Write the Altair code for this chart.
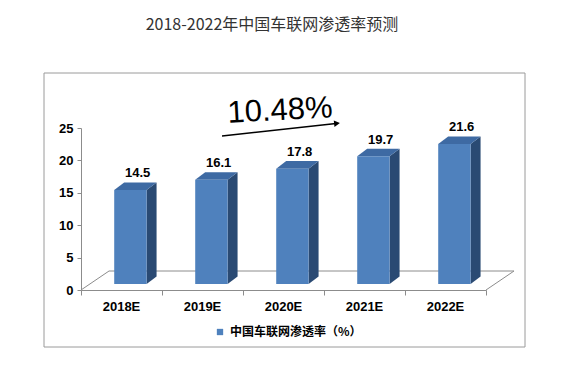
import altair as alt
import pandas as pd

# ---- data ----
categories = ["2018E", "2019E", "2020E", "2021E", "2022E"]
values = [14.5, 16.1, 17.8, 19.7, 21.6]
series_name = "中国车联网渗透率（%）"
title_text = "2018-2022年中国车联网渗透率预测"
growth_text = "10.48%"
y_ticks = [0, 5, 10, 15, 20, 25]

# ---- pseudo-3D geometry (in data units) ----
base = 0.93        # bar sits slightly behind the front floor edge
face_l, face_r = 0.41, 0.81
dx, dy = 0.123, 1.16   # depth of each bar
floor_dx, floor_dy = 0.346, 2.93

front_c = "#4f81bd"
side_c = "#2a4a73"
top_c = "#3e6aa3"
grid_c = "#8c8c8c"

xs = alt.Scale(domain=[0, 5], nice=False, zero=False)
ys = alt.Scale(domain=[0, 25], nice=False)

xax = alt.Axis(values=[0, 1, 2, 3, 4, 5], labels=False, tickSize=5,
               domainColor=grid_c, tickColor=grid_c, grid=False, title=None)
yax = alt.Axis(values=y_ticks, tickSize=4, domainColor=grid_c, tickColor=grid_c,
               grid=False, title=None, labelFont="Liberation Sans",
               labelFontSize=13, labelFontWeight="bold", labelColor="#000",
               labelPadding=4, labelOverlap=False, labelBound=False)

front = pd.DataFrame({
    "cat": categories,
    "x": [i + face_l for i in range(5)],
    "x2": [i + face_r for i in range(5)],
    "y": [base] * 5,
    "y2": [v + base for v in values],
    "series": [series_name] * 5,
    "v": values,
    "lx": [i + 0.70 for i in range(5)],
    "ly": [v + base + dy for v in values],
    "cx": [i + 0.5 for i in range(5)],
})

side_rows = []
top_rows = []
for i, (c, v) in enumerate(zip(categories, values)):
    side_rows.append({"cat": c, "x": i + face_r, "lo": base, "hi": v + base})
    side_rows.append({"cat": c, "x": i + face_r + dx, "lo": base + dy, "hi": v + base + dy})
    top_rows.append({"cat": c, "y": v + base, "xl": i + face_l, "xr": i + face_r})
    top_rows.append({"cat": c, "y": v + base + dy, "xl": i + face_l + dx, "xr": i + face_r + dx})
side = pd.DataFrame(side_rows)
top = pd.DataFrame(top_rows)

floor = pd.DataFrame({
    "x": [floor_dx, 0, 5],
    "y": [floor_dy, 0, 0],
    "x2": [5 + floor_dx, floor_dx, 5 + floor_dx],
    "y2": [floor_dy, floor_dy, floor_dy],
})

frame = alt.Chart(pd.DataFrame({"a": [0]})).mark_rect(
    fill=None, stroke="#9a9a9a", strokeWidth=1
).encode(x=alt.value(-37), x2=alt.value(444), y=alt.value(-55), y2=alt.value(219))

floor_lines = alt.Chart(floor).mark_rule(color=grid_c, strokeWidth=1).encode(
    x=alt.X("x:Q", scale=xs, axis=xax),
    y=alt.Y("y:Q", scale=ys, axis=yax),
    x2="x2:Q", y2="y2:Q",
)

front_bars = alt.Chart(front).mark_rect().encode(
    x=alt.X("x:Q", scale=xs, axis=xax), x2="x2:Q",
    y=alt.Y("y:Q", scale=ys, axis=yax), y2="y2:Q",
    color=alt.Color("series:N",
                    scale=alt.Scale(domain=[series_name], range=[front_c]),
                    legend=alt.Legend(orient="none", legendX=133, legendY=198, title=None,
                                      symbolType="square", symbolSize=40, symbolStrokeWidth=0,
                                      labelFont="Noto Sans CJK SC", labelFontSize=12,
                                      labelFontWeight="bold", labelColor="#000", padding=0)),
)

side_faces = alt.Chart(side).mark_area(color=side_c, opacity=1).encode(
    x=alt.X("x:Q", scale=xs, axis=xax),
    y=alt.Y("hi:Q", scale=ys, stack=None, axis=yax), y2="lo:Q",
    detail="cat:N",
)

top_faces = alt.Chart(top).mark_area(color=top_c, opacity=1, orient="horizontal").encode(
    y=alt.Y("y:Q", scale=ys, axis=yax),
    x=alt.X("xl:Q", scale=xs, stack=None, axis=xax), x2="xr:Q",
    detail="cat:N",
)

value_labels = alt.Chart(front).mark_text(
    font="Liberation Sans", fontSize=13, fontWeight="bold", color="#000",
    baseline="alphabetic", dy=-5
).encode(x=alt.X("lx:Q", scale=xs, axis=xax), y=alt.Y("ly:Q", scale=ys, axis=yax),
         text=alt.Text("v:Q", format=".1f"))

cat_labels = alt.Chart(front).mark_text(
    font="Liberation Sans", fontSize=13, fontWeight="bold", color="#000", baseline="alphabetic"
).encode(x=alt.X("cx:Q", scale=xs, axis=xax), y=alt.value(183), text="cat:N")

title = alt.Chart(pd.DataFrame({"t": [title_text]})).mark_text(
    font="Noto Sans CJK SC", fontSize=16, color="#333", baseline="middle"
).encode(x=alt.value(191), y=alt.value(-103), text="t:N")

growth = alt.Chart(pd.DataFrame({"t": [growth_text]})).mark_text(
    font="Liberation Sans", fontSize=31, color="#000", baseline="middle", angle=357
).encode(x=alt.value(199), y=alt.value(-17), text="t:N")

arrow_line = alt.Chart(pd.DataFrame({"a": [0]})).mark_rule(color="#000", strokeWidth=1.5).encode(
    x=alt.value(141), y=alt.value(8), x2=alt.value(255), y2=alt.value(-4.5)
)
arrow_head = alt.Chart(pd.DataFrame({"a": [0]})).mark_point(
    shape="triangle-right", filled=True, color="#000", size=45, angle=353.7, opacity=1
).encode(x=alt.value(256), y=alt.value(-4.6))

chart = alt.layer(
    frame, floor_lines, side_faces, top_faces, front_bars, value_labels, cat_labels,
    title, growth, arrow_line, arrow_head
).properties(
    width=405, height=162,
    autosize=alt.AutoSizeParams(type="none"),
    padding={"left": 73, "top": 120, "right": 75, "bottom": 79},
).configure_view(stroke=None)

chart.save("out.html", embed_options={"renderer": "svg", "actions": False})
